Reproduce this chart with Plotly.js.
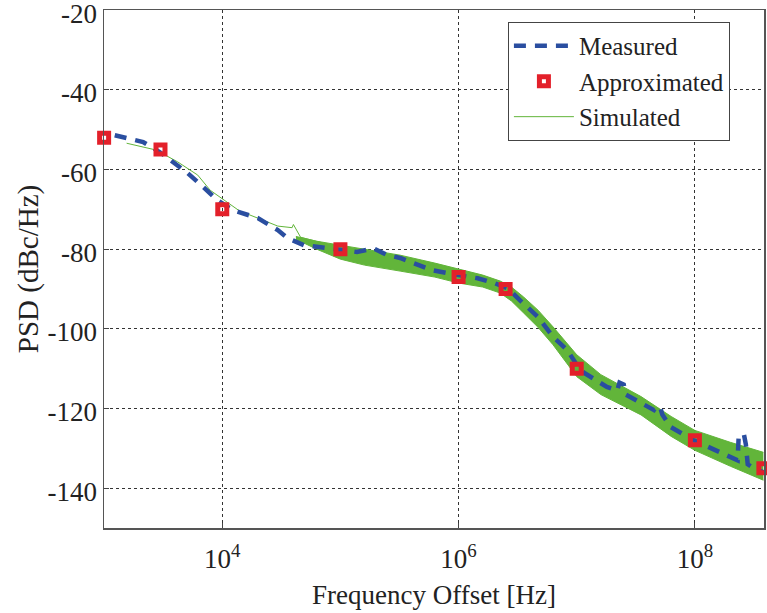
<!DOCTYPE html>
<html><head><meta charset="utf-8">
<script src="https://cdn.plot.ly/plotly-3.0.1.min.js"></script>
<style>html,body{margin:0;padding:0;background:#fff}</style>
</head><body><div id="chart" style="width:767px;height:613px"></div>
<script>
// Measured PSD (dashed blue)
const measuredF = [1.23e3, 2.14e3, 2.95e3, 5.0e3, 6.9e3, 9.1e3, 1.23e4, 2.0e4, 2.95e4, 3.55e4, 4.9e4, 7.2e4, 8.3e4, 1.07e5, 1.38e5, 1.9e5, 2.5e5, 3.2e5, 4.5e5, 6.0e5, 1.0e6, 1.45e6, 2.0e6, 2.6e6, 3.3e6, 4.7e6, 6.3e6, 8.3e6, 1.0e7, 1.15e7, 1.8e7, 2.2e7, 2.3e7, 2.5e7, 2.6e7, 3.5e7, 4.5e7, 4.7e7, 5.1e7, 5.3e7, 6.2e7, 9.8e7, 1.45e8, 2.15e8, 2.3e8, 2.35e8, 2.6e8, 2.7e8, 2.8e8, 3.15e8, 3.8e8];
const measuredPSD = [-51.4, -53.1, -55.6, -60.7, -64.4, -67.7, -70.2, -72.2, -75.2, -77.2, -79.0, -79.7, -80.0, -80.5, -80.7, -79.8, -81.5, -82.2, -84.0, -85.3, -86.5, -87.3, -88.5, -89.8, -92.8, -97.0, -102.0, -105.3, -109.0, -111.0, -114.6, -115.5, -113.5, -114.0, -116.5, -118.6, -120.4, -119.5, -119.8, -121.5, -124.6, -128.0, -130.4, -132.5, -133.0, -126.8, -126.5, -129.0, -134.0, -135.0, -136.0];

// Approximated points (red squares)
const approxF = [1e3, 3e3, 1e4, 1e5, 1e6, 2.5e6, 1e7, 1e8, 3.8e8];
const approxPSD = [-52, -55, -70, -80, -87, -90, -110, -128, -135];

// Simulated (thin green line, low offsets)
const simF = [1.55e3, 2.75e3, 4.2e3, 6.2e3, 7.9e3, 1.02e4, 1.4e4, 2.25e4, 2.95e4, 3.9e4, 4.0e4, 4.6e4, 7.2e4, 1.07e5];
const simPSD = [-53.4, -55.1, -58.1, -61.4, -65.2, -67.6, -70.4, -72.8, -74.2, -74.6, -73.8, -77.0, -78.5, -80.2];

// Simulated noise band (upper / lower envelope, high offsets)
const bandF = [4.2e4, 6.3e4, 1.0e5, 1.6e5, 3.2e5, 6.3e5, 1.0e6, 1.6e6, 2.25e6, 2.8e6, 3.55e6, 4.7e6, 6.3e6, 1.0e7, 1.6e7, 3.5e7, 6.3e7, 1.0e8, 2.0e8, 3.8e8];
const bandUpper = [-76.8, -78.0, -79.0, -80.0, -81.5, -83.5, -85.0, -86.5, -88.0, -89.5, -92.0, -95.3, -99.5, -106.5, -111.5, -117.0, -122.0, -125.5, -128.5, -131.0];
const bandLower = [-77.5, -80.0, -82.5, -84.0, -85.5, -87.0, -88.5, -89.5, -91.0, -93.0, -96.0, -99.6, -104.0, -112.0, -116.5, -121.6, -127.0, -130.5, -134.5, -138.0];

const yTicks = [-140, -120, -100, -80, -60, -40, -20];
const yTickText = ["-140", "-120", "-100", "-80", "-60", "-40", "-20"];
const xTicks = [1e4, 1e6, 1e8];
const xTickText = ["10<sup>4</sup>", "10<sup>6</sup>", "10<sup>8</sup>"];

const green = '#62b53a';
const traces = [
  {x: bandF, y: bandUpper, type: 'scatter', mode: 'lines', line: {color: green, width: 1}, showlegend: false, hoverinfo: 'skip'},
  {x: bandF, y: bandLower, type: 'scatter', mode: 'lines', line: {color: green, width: 1}, fill: 'tonexty', fillcolor: green, showlegend: false, hoverinfo: 'skip'},
  {x: simF, y: simPSD, type: 'scatter', mode: 'lines', name: 'Simulated', line: {color: green, width: 1}, legendrank: 3},
  {x: measuredF, y: measuredPSD, type: 'scatter', mode: 'lines', name: 'Measured', line: {color: '#2a4ea0', width: 4.5, dash: '12px,9px'}, legendrank: 1},
  {x: approxF, y: approxPSD, type: 'scatter', mode: 'markers', name: 'Approximated', cliponaxis: false,
   marker: {symbol: 'square-open', size: 9, color: '#e3202a', line: {width: 5, color: '#e3202a'}}, legendrank: 2}
];

const fam = 'Liberation Serif, Times New Roman, serif';
const axisFont = {family: fam, size: 27, color: '#222'};
const layout = {
  width: 767, height: 613,
  margin: {l: 104, r: 3, t: 10, b: 85},
  paper_bgcolor: '#fff', plot_bgcolor: '#fff',
  font: axisFont,
  showlegend: true,
  legend: {x: 0.612, y: 0.977, xanchor: 'left', yanchor: 'top', bgcolor: '#fff', bordercolor: '#444', borderwidth: 1,
           traceorder: 'normal',
           font: {family: fam, size: 25, color: '#222'}, itemwidth: 60, tracegroupgap: 0},
  xaxis: {type: 'log', range: [2.999, 8.585], tickvals: xTicks, ticktext: xTickText,
          showgrid: true, gridcolor: '#333', griddash: 'dot', gridwidth: 1,
          ticks: 'inside', ticklen: 5, tickcolor: '#444', showline: true, linecolor: '#555', linewidth: 1.5, mirror: true,
          zeroline: false, tickfont: axisFont, ticklabelstandoff: 6, ticklabeloverflow: 'allow',
          title: {text: 'Frequency Offset [Hz]', font: axisFont, standoff: 12}},
  yaxis: {range: [-150, -19.95], tickvals: yTicks, ticktext: yTickText,
          showgrid: true, gridcolor: '#333', griddash: 'dot', gridwidth: 1,
          ticks: 'inside', ticklen: 5, tickcolor: '#444', showline: true, linecolor: '#555', linewidth: 1.5, mirror: true,
          zeroline: false, tickfont: axisFont, ticklabeloverflow: 'allow', ticklabelshift: 3,
          title: {text: 'PSD (dBc/Hz)', font: {family: fam, size: 29, color: '#222'}, standoff: 0}}
};
Plotly.newPlot('chart', traces, layout, {displayModeBar: false, staticPlot: true});
</script></body></html>
